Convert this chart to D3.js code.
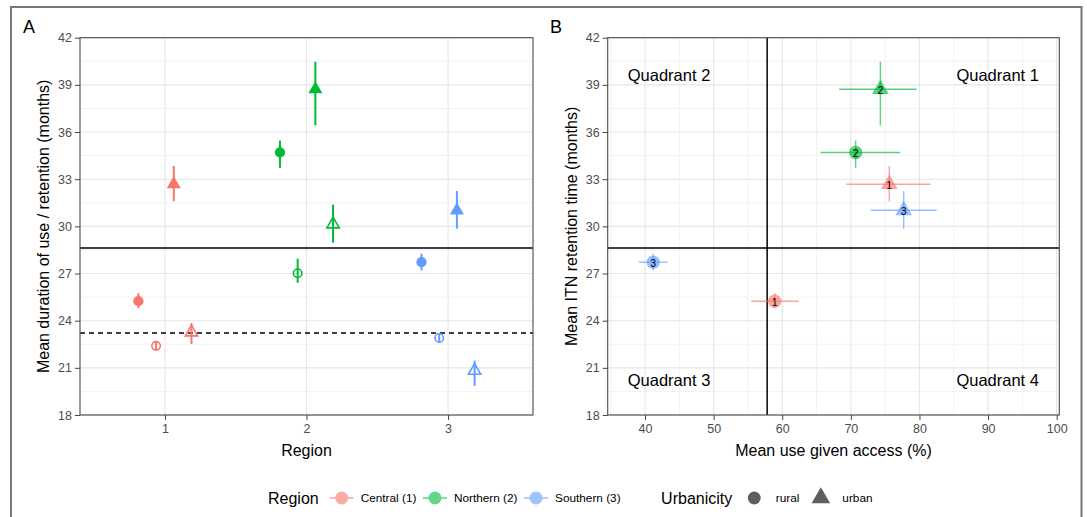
<!DOCTYPE html>
<html>
<head>
<meta charset="utf-8">
<script src="https://cdn.jsdelivr.net/npm/d3@7"></script>
<style>
  html, body { margin: 0; padding: 0; background: #fff; }
  svg { display: block; font-family: "Liberation Sans", Arial, sans-serif; }
</style>
</head>
<body>
<script>
// ---- data ----
const regions = ["Central (1)", "Northern (2)", "Southern (3)"];
const regionIds = ["1", "2", "3"];
const regionColors = ["#F8766D", "#00BA38", "#619CFF"];
const urbanicity = ["rural", "urban"];

const yTicks = [18, 21, 24, 27, 30, 33, 36, 39, 42];
const xTicksA = [1, 2, 3];
const xTicksB = [40, 50, 60, 70, 80, 90, 100];

// ITN retention time (months) with 95% CI
const retentionRural   = [25.24, 34.70, 27.72];
const retentionRuralLo = [24.80, 33.72, 27.20];
const retentionRuralHi = [25.75, 35.46, 28.26];
const retentionUrban   = [32.68, 38.72, 31.02];
const retentionUrbanLo = [31.60, 36.42, 29.85];
const retentionUrbanHi = [33.84, 40.47, 32.25];

// Duration of use (months) with 95% CI
const durationRural   = [22.40, 27.02, 22.90];
const durationRuralLo = [22.12, 26.41, 22.62];
const durationRuralHi = [22.68, 27.94, 23.18];
const durationUrban   = [23.26, 30.13, 20.82];
const durationUrbanLo = [22.52, 28.96, 19.86];
const durationUrbanHi = [23.84, 31.38, 21.46];

// Mean use given access (%) with 95% CI
const useAccessRural   = [58.9, 70.7, 41.2];
const useAccessRuralLo = [55.5, 65.6, 39.1];
const useAccessRuralHi = [62.4, 77.2, 43.3];
const useAccessUrban   = [75.6, 74.3, 77.7];
const useAccessUrbanLo = [69.3, 68.3, 72.9];
const useAccessUrbanHi = [81.6, 79.6, 82.5];

// overall means used as reference lines
const overallRetention = 28.62;
const overallDuration = 23.22;
const overallUseAccess = 57.8;

// quadrant annotations (data coordinates)
const quadrantNames = ["Quadrant 1", "Quadrant 2", "Quadrant 3", "Quadrant 4"];
const quadrantX = [91.4, 43.5, 43.5, 91.4];
const quadrantY = [39.6, 39.6, 20.25, 20.25];

// ---- layout ----
const W = 1087, H = 517;
const FONT = '"Liberation Sans", Arial, sans-serif';
const svg = d3.select("body").append("svg").attr("width", W).attr("height", H);
svg.append("rect").attr("width", W).attr("height", H).attr("fill", "#fff");
svg.append("path").attr("d", "M11,517V7H1081.5V517")
  .attr("fill", "none").attr("stroke", "#777").attr("stroke-width", 2);

const yMinor = yTicks.slice(1).map(t => t - 1.5);

const yA = d3.scaleLinear().domain([18, 42]).range([415, 37.7]);
const xA = d3.scaleLinear().domain([0.4, 3.6]).range([80, 533]);
const yB = d3.scaleLinear().domain([18, 42]).range([415, 37.7]);
const xB = d3.scaleLinear().domain([34.56, 100.38]).range([607.7, 1059.3]);
const xMinorB = xTicksB.slice(1).map(t => t - 5).concat([35]);

function drawPanel(x, y, xMajor, xMinor) {
  const g = svg.append("g");
  const [x0, x1] = x.range();
  const [y0, y1] = y.range();
  const hline = (vals, col, w) => g.append("g").selectAll("line").data(vals).join("line")
    .attr("x1", x0).attr("x2", x1).attr("y1", d => y(d)).attr("y2", d => y(d))
    .attr("stroke", col).attr("stroke-width", w);
  const vline = (vals, col, w) => g.append("g").selectAll("line").data(vals).join("line")
    .attr("y1", y0).attr("y2", y1).attr("x1", d => x(d)).attr("x2", d => x(d))
    .attr("stroke", col).attr("stroke-width", w);
  hline(yMinor, "#F0F0F0", 0.9);
  vline(xMinor, "#F0F0F0", 0.9);
  hline(yTicks, "#E6E6E6", 1.1);
  vline(xMajor, "#E6E6E6", 1.1);

  const ax = g.append("g").attr("transform", `translate(0,${y0})`)
    .call(d3.axisBottom(x).tickValues(xMajor).tickSize(5).tickPadding(4).tickFormat(d3.format("d")));
  const ay = g.append("g").attr("transform", `translate(${x0},0)`)
    .call(d3.axisLeft(y).tickValues(yTicks).tickSize(5).tickPadding(3).tickFormat(d3.format("d")));
  [ax, ay].forEach(a => {
    a.select(".domain").remove();
    a.selectAll(".tick line").attr("stroke", "#444").attr("stroke-width", 1);
    a.selectAll(".tick text").attr("fill", "#4D4D4D").style("font-size", "12.5px").style("font-family", FONT);
  });
  return g;
}

function drawBorder(x, y) {
  const [x0, x1] = x.range();
  const [y0, y1] = y.range();
  svg.append("rect").attr("x", x0).attr("y", y1).attr("width", x1 - x0).attr("height", y0 - y1)
    .attr("fill", "none").attr("stroke", "#4a4a4a").attr("stroke-width", 1.1);
}

function label(txt, xPos, yPos, size, opts = {}) {
  const t = svg.append("text").attr("x", xPos).attr("y", yPos).text(txt)
    .style("font-size", size + "px").style("font-family", FONT)
    .attr("fill", opts.fill || "#000")
    .attr("text-anchor", opts.anchor || "middle")
    .attr("dominant-baseline", opts.baseline || "central");
  if (opts.rotate) t.attr("transform", `rotate(-90,${xPos},${yPos})`);
  return t;
}

// ---- Panel A: dodged point ranges by region ----
drawPanel(xA, yA, xTicksA, []);

const gA = svg.append("g");
gA.append("line").attr("x1", xA.range()[0]).attr("x2", xA.range()[1])
  .attr("y1", yA(overallRetention)).attr("y2", yA(overallRetention))
  .attr("stroke", "#000").attr("stroke-width", 1.5);
gA.append("line").attr("x1", xA.range()[0]).attr("x2", xA.range()[1])
  .attr("y1", yA(overallDuration)).attr("y2", yA(overallDuration))
  .attr("stroke", "#000").attr("stroke-width", 1.5).attr("stroke-dasharray", "5,4");

const seriesA = [
  { val: retentionRural, lo: retentionRuralLo, hi: retentionRuralHi, shape: d3.symbolCircle, filled: true, size: 82, dodge: -0.1875 },
  { val: durationRural, lo: durationRuralLo, hi: durationRuralHi, shape: d3.symbolCircle, filled: false, size: 56, dodge: -0.0625 },
  { val: retentionUrban, lo: retentionUrbanLo, hi: retentionUrbanHi, shape: d3.symbolTriangle, filled: true, size: 86, dodge: 0.0625 },
  { val: durationUrban, lo: durationUrbanLo, hi: durationUrbanHi, shape: d3.symbolTriangle, filled: false, size: 66, dodge: 0.1875 }
];

seriesA.forEach(s => {
  regions.forEach((r, i) => {
    const cx = xA(i + 1 + s.dodge);
    const col = regionColors[i];
    gA.append("line").attr("x1", cx).attr("x2", cx)
      .attr("y1", yA(s.lo[i])).attr("y2", yA(s.hi[i]))
      .attr("stroke", col).attr("stroke-width", 2);
    gA.append("path").attr("d", d3.symbol(s.shape, s.size)())
      .attr("transform", `translate(${cx},${yA(s.val[i])})`)
      .attr("fill", s.filled ? col : "none")
      .attr("stroke", s.filled ? "none" : col)
      .attr("stroke-width", s.filled ? 0 : 1.6);
  });
});
drawBorder(xA, yA);

label("A", 29, 27, 18);
label("Region", (xA.range()[0] + xA.range()[1]) / 2, 450, 16);
label("Mean duration of use / retention (months)", 44, (yA.range()[0] + yA.range()[1]) / 2, 16, { rotate: true });

// ---- Panel B: use given access vs retention ----
drawPanel(xB, yB, xTicksB, xMinorB);
const gB = svg.append("g");
gB.append("line").attr("x1", xB.range()[0]).attr("x2", xB.range()[1])
  .attr("y1", yB(overallRetention)).attr("y2", yB(overallRetention))
  .attr("stroke", "#000").attr("stroke-width", 1.5);
gB.append("line").attr("y1", yB.range()[0]).attr("y2", yB.range()[1])
  .attr("x1", xB(overallUseAccess)).attr("x2", xB(overallUseAccess))
  .attr("stroke", "#000").attr("stroke-width", 1.5);

quadrantNames.forEach((q, i) => label(q, xB(quadrantX[i]), yB(quadrantY[i]), 16.5));

const seriesB = [
  { x: useAccessRural, xlo: useAccessRuralLo, xhi: useAccessRuralHi,
    y: retentionRural, ylo: retentionRuralLo, yhi: retentionRuralHi, shape: d3.symbolCircle, size: 140 },
  { x: useAccessUrban, xlo: useAccessUrbanLo, xhi: useAccessUrbanHi,
    y: retentionUrban, ylo: retentionUrbanLo, yhi: retentionUrbanHi, shape: d3.symbolTriangle, size: 122 }
];
seriesB.forEach(s => {
  regions.forEach((r, i) => {
    const col = regionColors[i];
    const px = xB(s.x[i]), py = yB(s.y[i]);
    const eg = gB.append("g").attr("opacity", 0.65);
    eg.append("line").attr("x1", xB(s.xlo[i])).attr("x2", xB(s.xhi[i])).attr("y1", py).attr("y2", py)
      .attr("stroke", col).attr("stroke-width", 1.4);
    eg.append("line").attr("x1", px).attr("x2", px).attr("y1", yB(s.ylo[i])).attr("y2", yB(s.yhi[i]))
      .attr("stroke", col).attr("stroke-width", 1.4);
    gB.append("path").attr("d", d3.symbol(s.shape, s.size)())
      .attr("transform", `translate(${px},${py})`)
      .attr("fill", col).attr("fill-opacity", 0.65);
    gB.append("text").attr("x", px).attr("y", py + 0.5).text(regionIds[i])
      .attr("text-anchor", "middle").attr("dominant-baseline", "central")
      .style("font-size", "10.5px").style("font-family", FONT).attr("fill", "#000");
  });
});
drawBorder(xB, yB);

label("B", 556, 27, 18);
label("Mean use given access (%)", (xB.range()[0] + xB.range()[1]) / 2, 450, 16);
label("Mean ITN retention time (months)", 572, (yB.range()[0] + yB.range()[1]) / 2, 16, { rotate: true });

// ---- Legend ----
const LY = 498;
let cx = 268;
const t1 = label("Region", cx, LY, 16, { anchor: "start" });
cx += t1.node().getComputedTextLength() + 23;
regions.forEach((r, i) => {
  const kg = svg.append("g").attr("opacity", 0.6);
  kg.append("line").attr("x1", cx - 12).attr("x2", cx + 12).attr("y1", LY).attr("y2", LY)
    .attr("stroke", regionColors[i]).attr("stroke-width", 1.6);
  kg.append("circle").attr("cx", cx).attr("cy", LY).attr("r", 6.5).attr("fill", regionColors[i]);
  const t = label(r, cx + 19, LY, 11.8, { anchor: "start" });
  cx += 19 + t.node().getComputedTextLength() + 18.5;
});
cx += 22;
const t2 = label("Urbanicity", cx, LY, 16, { anchor: "start" });
cx += t2.node().getComputedTextLength() + 22;
const urbShapes = [d3.symbolCircle, d3.symbolTriangle];
const urbSizes = [130, 150];
urbanicity.forEach((u, i) => {
  svg.append("path").attr("d", d3.symbol(urbShapes[i], urbSizes[i])())
    .attr("transform", `translate(${cx},${LY})`).attr("fill", "#5f5f5f");
  const t = label(u, cx + 21.5, LY, 11.8, { anchor: "start" });
  cx += 21.5 + t.node().getComputedTextLength() + 21.5;
});
</script>
</body>
</html>
